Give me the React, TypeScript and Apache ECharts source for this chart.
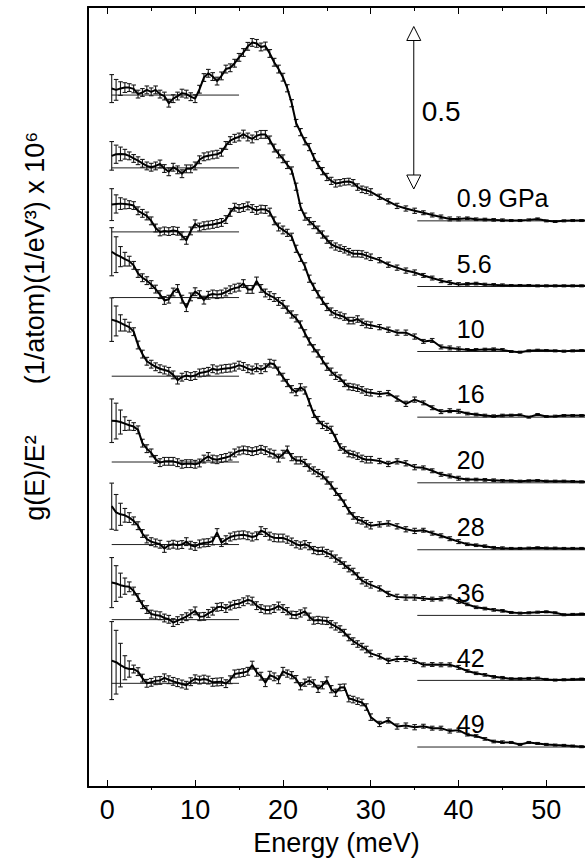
import React, { useEffect, useRef } from "react";
import * as echarts from "echarts";

const FONT = "'Liberation Sans', Arial, Helvetica, sans-serif";

// Energy grid (meV)
const energies = [
  0.5, 1, 1.5, 2, 2.5, 3, 3.5, 4, 4.5, 5,
  5.5, 6, 6.5, 7, 7.5, 8, 8.5, 9, 9.5, 10,
  10.5, 11, 11.5, 12, 12.5, 13, 13.5, 14, 14.5, 15,
  15.5, 16, 16.5, 17, 17.5, 18, 18.5, 19, 19.5, 20,
  20.5, 21, 21.5, 22, 22.5, 23, 23.5, 24, 24.5, 25,
  25.5, 26, 26.5, 27, 27.5, 28, 28.5, 29, 29.5, 30,
  31, 32, 33, 34, 35, 36, 37, 38, 39, 40,
  41, 42, 43, 44, 45, 46, 47, 48, 49, 50,
  51, 52, 53, 54, 55,
];

const pressures = ["0.9 GPa", "5.6", "10", "16", "20", "28", "36", "42", "49"];

// vertical offset of each spectrum (its zero line at high energy)
const offsets = [1.742, 1.54, 1.34, 1.138, 0.936, 0.73, 0.528, 0.328, 0.123];
// level of the short reference line at low energy, relative to offset
const leftLevels = [0.387, 0.365, 0.368, 0.368, 0.328, 0.27, 0.218, 0.187, 0.196];

const g09 = [
  0.407, 0.403, 0.407, 0.41, 0.41, 0.406, 0.39, 0.395, 0.403, 0.397,
  0.403, 0.39, 0.384, 0.362, 0.376, 0.384, 0.393, 0.39, 0.382, 0.376,
  0.405, 0.441, 0.454, 0.444, 0.43, 0.446, 0.467, 0.471, 0.485, 0.503,
  0.518, 0.537, 0.549, 0.546, 0.535, 0.538, 0.515, 0.488, 0.467, 0.442,
  0.408, 0.362, 0.301, 0.273, 0.245, 0.227, 0.196, 0.172, 0.153, 0.135,
  0.123, 0.115, 0.117, 0.12, 0.121, 0.117, 0.104, 0.097, 0.094, 0.089,
  0.074, 0.06, 0.046, 0.038, 0.031, 0.025, 0.018, 0.012, 0.006, 0.006,
  0.008, 0.005, 0.004, 0.003, 0.002, 0.001, 0.001, 0.003, 0.006, 0.0,
  -0.002, 0.0, 0.001, 0.001, 0.001,
];
const g56 = [
  0.402, 0.407, 0.408, 0.407, 0.402, 0.394, 0.387, 0.379, 0.371, 0.367,
  0.371, 0.377, 0.363, 0.353, 0.367, 0.359, 0.347, 0.362, 0.362, 0.371,
  0.39, 0.399, 0.402, 0.405, 0.407, 0.413, 0.434, 0.449, 0.456, 0.46,
  0.469, 0.46, 0.454, 0.464, 0.468, 0.468, 0.451, 0.426, 0.408, 0.393,
  0.374, 0.357, 0.307, 0.245, 0.215, 0.201, 0.189, 0.175, 0.16, 0.144,
  0.13, 0.123, 0.118, 0.113, 0.107, 0.101, 0.101, 0.1, 0.095, 0.09,
  0.081, 0.067, 0.058, 0.049, 0.043, 0.034, 0.026, 0.018, 0.012, 0.006,
  0.008, 0.009, 0.006, 0.005, 0.004, 0.003, 0.003, 0.003, 0.002, 0.002,
  0.002, 0.002, 0.002, 0.002, 0.002,
];
const g10 = [
  0.452, 0.454, 0.455, 0.454, 0.452, 0.449, 0.433, 0.425, 0.417, 0.402,
  0.38, 0.368, 0.371, 0.369, 0.372, 0.37, 0.356, 0.342, 0.371, 0.393,
  0.383, 0.387, 0.389, 0.391, 0.394, 0.397, 0.406, 0.428, 0.444, 0.44,
  0.443, 0.448, 0.44, 0.434, 0.438, 0.437, 0.429, 0.402, 0.383, 0.374,
  0.365, 0.353, 0.316, 0.288, 0.262, 0.224, 0.199, 0.176, 0.156, 0.137,
  0.123, 0.115, 0.111, 0.106, 0.095, 0.095, 0.1, 0.09, 0.083, 0.081,
  0.075, 0.067, 0.058, 0.058, 0.046, 0.031, 0.034, 0.014, 0.011, 0.008,
  0.005, 0.005, 0.006, 0.007, 0.005, 0.0, -0.002, 0.002, 0.004, 0.003,
  0.002, 0.001, 0.002, 0.003, 0.003,
];
const g16 = [
  0.509, 0.5, 0.494, 0.486, 0.48, 0.467, 0.442, 0.429, 0.42, 0.408,
  0.394, 0.377, 0.359, 0.363, 0.385, 0.396, 0.363, 0.337, 0.37, 0.386,
  0.377, 0.36, 0.375, 0.379, 0.377, 0.379, 0.385, 0.392, 0.397, 0.4,
  0.411, 0.393, 0.393, 0.419, 0.396, 0.382, 0.374, 0.368, 0.356, 0.347,
  0.331, 0.316, 0.304, 0.285, 0.258, 0.233, 0.212, 0.196, 0.175, 0.155,
  0.14, 0.127, 0.12, 0.104, 0.094, 0.092, 0.089, 0.084, 0.077, 0.075,
  0.071, 0.074, 0.057, 0.041, 0.054, 0.044, 0.029, 0.017, 0.02, 0.018,
  0.011, 0.008, 0.005, 0.003, 0.005, 0.006, 0.007, 0.0, 0.008, 0.002,
  0.003, 0.005, 0.005, 0.005, 0.005,
];
const g20 = [
  0.502, 0.498, 0.492, 0.485, 0.479, 0.465, 0.424, 0.396, 0.374, 0.365,
  0.357, 0.351, 0.347, 0.343, 0.332, 0.316, 0.325, 0.33, 0.327, 0.33,
  0.338, 0.34, 0.343, 0.351, 0.347, 0.35, 0.352, 0.353, 0.356, 0.362,
  0.358, 0.351, 0.347, 0.354, 0.348, 0.354, 0.368, 0.365, 0.344, 0.325,
  0.307, 0.288, 0.279, 0.294, 0.284, 0.248, 0.212, 0.193, 0.178, 0.172,
  0.163, 0.138, 0.11, 0.101, 0.09, 0.087, 0.082, 0.075, 0.071, 0.071,
  0.067, 0.058, 0.066, 0.06, 0.048, 0.046, 0.037, 0.026, 0.021, 0.014,
  0.01, 0.01, 0.009, 0.008, 0.006, 0.006, 0.005, 0.006, 0.007, 0.005,
  0.005, 0.005, 0.004, 0.003, 0.003,
];
const g28 = [
  0.397, 0.396, 0.393, 0.388, 0.383, 0.379, 0.369, 0.328, 0.311, 0.298,
  0.278, 0.268, 0.272, 0.272, 0.272, 0.268, 0.263, 0.265, 0.265, 0.263,
  0.267, 0.279, 0.287, 0.279, 0.277, 0.281, 0.284, 0.288, 0.298, 0.304,
  0.307, 0.305, 0.302, 0.305, 0.309, 0.305, 0.298, 0.294, 0.282, 0.294,
  0.308, 0.285, 0.275, 0.275, 0.267, 0.253, 0.244, 0.236, 0.229, 0.213,
  0.198, 0.178, 0.163, 0.143, 0.12, 0.104, 0.092, 0.089, 0.08, 0.074,
  0.078, 0.081, 0.072, 0.063, 0.058, 0.06, 0.051, 0.043, 0.034, 0.025,
  0.017, 0.014, 0.011, 0.006, 0.005, 0.004, 0.004, 0.005, 0.006, 0.005,
  0.005, 0.004, 0.004, 0.004, 0.004,
];
const g36 = [
  0.336, 0.317, 0.311, 0.308, 0.301, 0.291, 0.276, 0.252, 0.235, 0.227,
  0.223, 0.219, 0.206, 0.216, 0.219, 0.216, 0.218, 0.227, 0.216, 0.212,
  0.22, 0.223, 0.224, 0.229, 0.255, 0.224, 0.233, 0.241, 0.245, 0.247,
  0.248, 0.245, 0.241, 0.245, 0.261, 0.255, 0.244, 0.239, 0.238, 0.238,
  0.233, 0.227, 0.219, 0.215, 0.219, 0.213, 0.201, 0.198, 0.199, 0.192,
  0.187, 0.175, 0.167, 0.155, 0.144, 0.135, 0.121, 0.107, 0.1, 0.094,
  0.083, 0.066, 0.057, 0.055, 0.055, 0.052, 0.05, 0.051, 0.057, 0.043,
  0.034, 0.025, 0.021, 0.017, 0.014, 0.009, 0.007, 0.008, 0.01, 0.011,
  0.008, 0.002, 0.003, 0.004, 0.004,
];
const g42 = [
  0.301, 0.298, 0.293, 0.29, 0.288, 0.275, 0.255, 0.233, 0.218, 0.204,
  0.201, 0.199, 0.192, 0.188, 0.178, 0.184, 0.19, 0.196, 0.205, 0.214,
  0.196, 0.197, 0.206, 0.213, 0.225, 0.227, 0.221, 0.229, 0.234, 0.236,
  0.242, 0.248, 0.244, 0.23, 0.221, 0.217, 0.217, 0.221, 0.229, 0.221,
  0.213, 0.202, 0.201, 0.206, 0.212, 0.196, 0.184, 0.186, 0.184, 0.183,
  0.173, 0.166, 0.158, 0.147, 0.132, 0.121, 0.112, 0.104, 0.095, 0.083,
  0.074, 0.06, 0.066, 0.066, 0.06, 0.048, 0.049, 0.048, 0.048, 0.04,
  0.029, 0.022, 0.017, 0.011, 0.008, 0.005, 0.005, 0.006, 0.007, 0.003,
  0.001, 0.002, 0.003, 0.004, 0.004,
];
const g49 = [
  0.266, 0.261, 0.252, 0.244, 0.24, 0.24, 0.232, 0.212, 0.196, 0.199,
  0.204, 0.205, 0.213, 0.207, 0.202, 0.198, 0.194, 0.19, 0.201, 0.21,
  0.206, 0.209, 0.206, 0.199, 0.2, 0.201, 0.195, 0.207, 0.225, 0.227,
  0.229, 0.233, 0.252, 0.23, 0.218, 0.198, 0.221, 0.216, 0.207, 0.233,
  0.226, 0.221, 0.209, 0.187, 0.198, 0.204, 0.196, 0.179, 0.19, 0.205,
  0.178, 0.167, 0.183, 0.184, 0.149, 0.146, 0.141, 0.137, 0.123, 0.092,
  0.071, 0.082, 0.063, 0.066, 0.061, 0.064, 0.058, 0.058, 0.049, 0.052,
  0.038, 0.034, 0.025, 0.017, 0.015, 0.014, 0.008, 0.014, 0.011, 0.008,
  0.006, 0.005, 0.003, 0.001, 0.0,
];
const spectra = [g09, g56, g10, g16, g20, g28, g36, g42, g49];

// half-widths of the error bars, common to all spectra
const errBase = [
  0.043, 0.032, 0.021, 0.015, 0.012, 0.012, 0.012, 0.012, 0.012, 0.012,
  0.012, 0.012, 0.012, 0.012, 0.012, 0.012, 0.012, 0.012, 0.012, 0.012,
  0.012, 0.012, 0.012, 0.012, 0.012, 0.012, 0.012, 0.012, 0.012, 0.012,
  0.012, 0.012, 0.012, 0.012, 0.012, 0.012, 0.012, 0.012, 0.012, 0.012,
  0.011, 0.011, 0.011, 0.011, 0.011, 0.011, 0.011, 0.011, 0.011, 0.011,
  0.011, 0.011, 0.01, 0.01, 0.01, 0.01, 0.01, 0.01, 0.01, 0.01,
  0.008, 0.008, 0.008, 0.008, 0.008, 0.006, 0.006, 0.006, 0.006, 0.006,
  0.004, 0.004, 0.004, 0.004, 0.004, 0.003, 0.003, 0.003, 0.003, 0.003,
  0.003, 0.003, 0.003, 0.003, 0.003,
];
// error half-widths of the five lowest-energy points of each spectrum
const errHead = [
  [0.043, 0.032, 0.021, 0.015, 0.012],
  [0.044, 0.028, 0.021, 0.015, 0.012],
  [0.049, 0.028, 0.018, 0.015, 0.012],
  [0.074, 0.055, 0.031, 0.021, 0.015],
  [0.067, 0.046, 0.025, 0.018, 0.015],
  [0.067, 0.055, 0.037, 0.021, 0.015],
  [0.071, 0.055, 0.034, 0.021, 0.015],
  [0.077, 0.055, 0.037, 0.025, 0.015],
  [0.12, 0.098, 0.067, 0.037, 0.025],
];

const xMajorTicks = [0, 10, 20, 30, 40, 50];
const xMinorTicks = [5, 15, 25, 35, 45];
const leftLineRange = [0.5, 15];
const rightLineRange = [35.3, 55];
const scaleBarValue = 0.5;
const scaleBarAnchor = [34.9, 2.34];
const labelEnergy = 39.8;
const labelLift = 0.07;

function buildOption() {
  const series: any[] = [];
  spectra.forEach((vals, i) => {
    const off = offsets[i];
    const leftY = off + leftLevels[i];
    series.push({
      type: "line",
      xAxisIndex: 0,
      yAxisIndex: 0,
      data: [
        [leftLineRange[0], leftY],
        [leftLineRange[1], leftY],
      ],
      showSymbol: false,
      silent: true,
      lineStyle: { color: "#222", width: 1 },
      z: 2,
    });
    series.push({
      type: "line",
      xAxisIndex: 0,
      yAxisIndex: 0,
      data: [
        [rightLineRange[0], off],
        [rightLineRange[1], off],
      ],
      showSymbol: false,
      silent: true,
      lineStyle: { color: "#222", width: 1 },
      z: 2,
    });
    series.push({
      type: "custom",
      xAxisIndex: 0,
      yAxisIndex: 0,
      clip: true,
      silent: true,
      z: 3,
      encode: { x: 0, y: [1, 2] },
      data: energies.map((e, j) => {
        const err = j < 5 ? errHead[i][j] : errBase[j];
        const y = off + vals[j];
        return [e, y - err, y + err];
      }),
      renderItem: (params: any, api: any) => {
        const x = api.value(0);
        const p1 = api.coord([x, api.value(1)]);
        const p2 = api.coord([x, api.value(2)]);
        const w = 2.3;
        const style = { stroke: "#1a1a1a", lineWidth: 1.1, fill: null };
        return {
          type: "group",
          children: [
            { type: "line", shape: { x1: p1[0], y1: p1[1], x2: p2[0], y2: p2[1] }, style },
            { type: "line", shape: { x1: p1[0] - w, y1: p1[1], x2: p1[0] + w, y2: p1[1] }, style },
            { type: "line", shape: { x1: p2[0] - w, y1: p2[1], x2: p2[0] + w, y2: p2[1] }, style },
          ],
        };
      },
    });
    series.push({
      type: "line",
      xAxisIndex: 0,
      yAxisIndex: 0,
      data: energies.map((e, j) => [e, off + vals[j]]),
      showSymbol: false,
      silent: true,
      lineStyle: { color: "#000", width: 2 },
      z: 4,
    });
  });

  series.push({
    type: "scatter",
    xAxisIndex: 0,
    yAxisIndex: 0,
    symbolSize: 0,
    silent: true,
    itemStyle: { opacity: 1 },
    data: pressures.map((p, i) => ({ name: p, value: [labelEnergy, offsets[i] + labelLift] })),
    label: {
      show: true,
      position: "right",
      distance: 0,
      formatter: (p: any) => p.name,
      color: "#000",
      opacity: 1,
      fontSize: 25,
      fontFamily: FONT,
    },
    z: 6,
  });

  series.push({
    type: "custom",
    xAxisIndex: 0,
    yAxisIndex: 0,
    silent: true,
    z: 6,
    data: [[scaleBarAnchor[0], scaleBarAnchor[1], scaleBarAnchor[1] - scaleBarValue]],
    encode: { x: 0, y: [1, 2] },
    renderItem: (params: any, api: any) => {
      const top = api.coord([api.value(0), api.value(1)]);
      const bot = api.coord([api.value(0), api.value(2)]);
      const x = top[0];
      const hw = 7;
      const hh = 14;
      const st = { stroke: "#000", lineWidth: 1, fill: "#fff" };
      return {
        type: "group",
        children: [
          { type: "line", shape: { x1: x, y1: top[1] + hh, x2: x, y2: bot[1] - hh }, style: { stroke: "#000", lineWidth: 1 } },
          { type: "polygon", shape: { points: [[x, top[1]], [x - hw, top[1] + hh], [x + hw, top[1] + hh]] }, style: st },
          { type: "polygon", shape: { points: [[x, bot[1]], [x - hw, bot[1] - hh], [x + hw, bot[1] - hh]] }, style: st },
          {
            type: "text",
            x: x + 8,
            y: (top[1] + bot[1]) / 2 + 4,
            style: {
              text: String(scaleBarValue),
              fill: "#000",
              fontSize: 28,
              fontFamily: FONT,
              align: "left",
              verticalAlign: "middle",
            },
          },
        ],
      };
    },
  });

  const grid = { left: 88, right: 0, top: 7, bottom: 71, containLabel: false };
  const common = { type: "value", min: -2.2, max: 54.4, splitLine: { show: false } };

  return {
    animation: false,
    backgroundColor: "#fff",
    grid: [grid, { ...grid }],
    xAxis: [
      {
        ...common,
        gridIndex: 0,
        position: "bottom",
        axisLine: { show: true, onZero: false, lineStyle: { color: "#000", width: 2 } },
        axisTick: { show: true, inside: true, length: 7, customValues: xMajorTicks, lineStyle: { color: "#000", width: 1 } },
        axisLabel: { show: true, customValues: xMajorTicks, color: "#000", fontSize: 27, fontFamily: FONT, margin: 9 },
        name: "Energy (meV)",
        nameLocation: "middle",
        nameGap: 42,
        nameTextStyle: { color: "#000", fontSize: 27, fontFamily: FONT },
      },
      {
        ...common,
        gridIndex: 0,
        position: "top",
        axisLine: { show: true, onZero: false, lineStyle: { color: "#000", width: 2 } },
        axisTick: { show: true, inside: true, length: 7, customValues: xMajorTicks, lineStyle: { color: "#000", width: 1 } },
        axisLabel: { show: false },
      },
      {
        ...common,
        gridIndex: 1,
        position: "bottom",
        axisLine: { show: false, onZero: false },
        axisTick: { show: true, inside: true, length: 4, customValues: xMinorTicks, lineStyle: { color: "#000", width: 1 } },
        axisLabel: { show: false },
      },
      {
        ...common,
        gridIndex: 1,
        position: "top",
        axisLine: { show: false, onZero: false },
        axisTick: { show: true, inside: true, length: 4, customValues: xMinorTicks, lineStyle: { color: "#000", width: 1 } },
        axisLabel: { show: false },
      },
    ],
    yAxis: [
      {
        type: "value",
        gridIndex: 0,
        min: 0,
        max: 2.4,
        position: "left",
        axisLine: { show: true, onZero: false, lineStyle: { color: "#000", width: 2 } },
        axisTick: { show: false },
        axisLabel: { show: false },
        splitLine: { show: false },
      },
      {
        type: "value",
        gridIndex: 1,
        min: 0,
        max: 2.4,
        show: false,
      },
    ],
    graphic: [
      {
        type: "text",
        x: 35,
        y: 258,
        rotation: Math.PI / 2,
        style: {
          text: "(1/atom)(1/eV³) x 10⁶",
          fill: "#000",
          fontSize: 27,
          fontFamily: FONT,
          align: "center",
          verticalAlign: "middle",
        },
      },
      {
        type: "text",
        x: 35,
        y: 478,
        rotation: Math.PI / 2,
        style: {
          text: "g(E)/E²",
          fill: "#000",
          fontSize: 27,
          fontFamily: FONT,
          align: "center",
          verticalAlign: "middle",
        },
      },
    ],
    series,
  };
}

export default function App() {
  const ref = useRef<HTMLDivElement>(null);
  useEffect(() => {
    if (!ref.current) return;
    const chart = echarts.init(ref.current, null, { renderer: "svg" });
    chart.setOption(buildOption() as any);
    return () => chart.dispose();
  }, []);
  return (
    <div
      ref={ref}
      style={{ position: "fixed", left: 0, top: 0, width: 585, height: 861, background: "#fff" }}
    />
  );
}
